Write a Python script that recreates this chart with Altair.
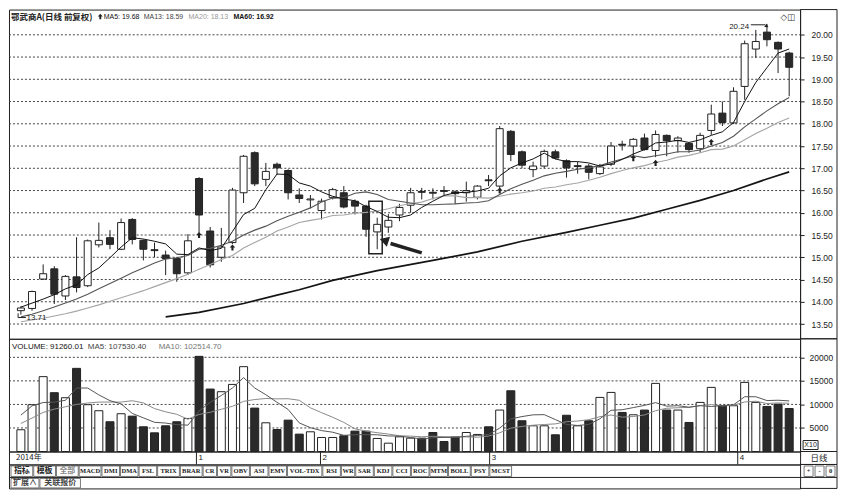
import altair as alt
import pandas as pd

W = 793
EXT = 37
H_PRICE = 330
H_VOL = 113
H_DATE = 13
H_TAB = 24
FONT = "Liberation Sans, DejaVu Sans, sans-serif"
CJK = "Noto Sans CJK SC, sans-serif"
INK = "#222222"
DARK = "#2a2a2a"
GRID = "#444444"

# ---------------- data ----------------
opens = [13.80, 13.85, 14.51, 14.74, 14.13, 14.56, 14.36, 15.28, 15.44, 15.18,
         15.85, 15.38, 15.17, 15.05, 14.97, 14.65, 16.77, 15.59, 15.00, 15.33,
         16.45, 17.35, 16.75, 17.09, 16.95, 16.40, 16.29, 16.05, 16.34, 16.45,
         16.26, 16.15, 15.57, 15.68, 15.95, 16.17, 16.48, 16.46, 16.50, 16.47,
         16.45, 16.35, 16.74, 16.60, 17.83, 17.37, 16.97, 17.05, 17.37, 17.17,
         17.04, 17.05, 16.88, 17.09, 17.54, 17.50, 17.68, 17.40, 17.74, 17.62,
         17.56, 17.44, 17.85, 18.24, 18.02, 18.84, 19.68, 20.06, 19.83, 19.59]
highs = [13.90, 14.25, 14.84, 14.80, 14.60, 15.45, 15.40, 15.78, 15.61, 15.87,
         15.88, 15.40, 15.33, 15.15, 15.00, 15.52, 16.80, 15.68, 15.66, 16.56,
         17.30, 17.38, 17.12, 17.13, 16.98, 16.55, 16.40, 16.32, 16.56, 16.60,
         16.30, 16.18, 15.89, 15.97, 16.20, 16.56, 16.56, 16.55, 16.60, 16.50,
         16.70, 16.62, 16.85, 17.95, 17.86, 17.40, 17.15, 17.42, 17.42, 17.20,
         17.15, 17.10, 17.10, 17.59, 17.62, 17.68, 17.78, 17.85, 17.76, 17.72,
         17.58, 17.80, 18.43, 18.50, 18.82, 19.87, 20.11, 20.24, 19.85, 19.62]
lows = [13.71, 13.80, 14.49, 13.95, 14.04, 14.21, 14.33, 15.22, 15.18, 15.16,
        15.29, 14.93, 15.00, 14.60, 14.45, 14.60, 15.55, 14.77, 14.90, 15.30,
        16.22, 16.60, 16.60, 16.85, 16.30, 16.22, 16.10, 15.85, 16.30, 16.10,
        15.96, 15.46, 15.18, 15.55, 15.81, 16.00, 16.30, 16.30, 16.40, 16.20,
        16.25, 16.30, 16.60, 16.55, 17.16, 17.00, 16.80, 17.00, 17.20, 16.79,
        16.88, 16.75, 16.85, 17.05, 17.40, 17.30, 17.40, 17.25, 17.27, 17.35,
        17.35, 17.35, 17.75, 17.95, 18.00, 18.54, 19.48, 19.74, 19.14, 18.62]
closes = [13.86, 14.23, 14.63, 14.17, 14.57, 14.32, 15.37, 15.38, 15.29, 15.78,
          15.40, 15.18, 15.15, 14.97, 14.63, 15.37, 15.95, 14.83, 15.23, 16.51,
          17.27, 16.65, 16.93, 17.01, 16.45, 16.32, 16.31, 16.26, 16.52, 16.13,
          16.15, 15.63, 15.74, 15.83, 16.12, 16.45, 16.46, 16.44, 16.48, 16.43,
          16.50, 16.60, 16.72, 17.89, 17.31, 17.07, 17.05, 17.38, 17.23, 17.01,
          17.06, 16.91, 17.03, 17.50, 17.52, 17.65, 17.42, 17.76, 17.62, 17.68,
          17.42, 17.74, 18.22, 18.03, 18.73, 19.80, 19.85, 19.89, 19.68, 19.27]
ma5 = [13.88, 13.97, 14.06, 14.16, 14.29, 14.38, 14.61, 14.76, 14.99, 15.23,
       15.44, 15.41, 15.36, 15.30, 15.07, 15.06, 15.21, 15.15, 15.20, 15.58,
       15.96, 16.10, 16.52, 16.87, 16.86, 16.67, 16.60, 16.47, 16.37, 16.31,
       16.27, 16.14, 16.03, 15.90, 15.89, 15.95, 16.12, 16.26, 16.39, 16.45,
       16.46, 16.49, 16.55, 16.83, 17.01, 17.12, 17.21, 17.34, 17.21, 17.15,
       17.15, 17.12, 17.05, 17.10, 17.20, 17.32, 17.42, 17.57, 17.59, 17.63,
       17.58, 17.64, 17.74, 17.82, 18.03, 18.50, 18.93, 19.26, 19.59, 19.68]
ma13 = [13.66, 13.72, 13.80, 13.88, 13.97, 14.06, 14.17, 14.29, 14.41, 14.53,
        14.65, 14.76, 14.87, 14.96, 14.99, 15.04, 15.18, 15.20, 15.27, 15.36,
        15.50, 15.61, 15.70, 15.82, 15.92, 16.01, 16.11, 16.24, 16.33, 16.34,
        16.44, 16.47, 16.41, 16.30, 16.26, 16.22, 16.18, 16.18, 16.19, 16.20,
        16.22, 16.23, 16.27, 16.41, 16.54, 16.64, 16.73, 16.83, 16.89, 16.93,
        16.98, 17.01, 17.06, 17.14, 17.21, 17.28, 17.24, 17.28, 17.32, 17.37,
        17.37, 17.41, 17.50, 17.58, 17.72, 17.93, 18.11, 18.29, 18.45, 18.59]
ma20 = [13.55, 13.59, 13.63, 13.68, 13.73, 13.79, 13.86, 13.93, 14.01, 14.09,
        14.17, 14.25, 14.34, 14.43, 14.52, 14.62, 14.73, 14.84, 14.95, 15.04,
        15.21, 15.33, 15.45, 15.59, 15.68, 15.78, 15.83, 15.87, 15.94, 15.95,
        15.99, 16.01, 16.04, 16.09, 16.16, 16.21, 16.24, 16.32, 16.38, 16.38,
        16.34, 16.34, 16.33, 16.37, 16.42, 16.45, 16.49, 16.55, 16.58, 16.63,
        16.67, 16.73, 16.80, 16.88, 16.95, 17.01, 17.06, 17.13, 17.18, 17.25,
        17.29, 17.35, 17.42, 17.43, 17.50, 17.64, 17.78, 17.90, 18.03, 18.13]
ma60_bars = [13, 16, 20, 23, 25, 28, 32, 37, 41, 45, 49, 52, 55, 58, 61, 64, 67, 69]
ma60_vals = [13.66, 13.76, 13.96, 14.15, 14.27, 14.48, 14.70, 14.93, 15.12, 15.36,
             15.56, 15.72, 15.88, 16.08, 16.28, 16.50, 16.76, 16.92]
volume = [4620, 9940, 15900, 12490, 11420, 17660, 9940, 8660, 6320, 8020,
          7510, 5250, 3970, 5460, 6320, 7020, 20210, 13260, 12700, 14250,
          18020, 9220, 6100, 4680, 6660, 3690, 4190, 2980, 2980, 3340,
          4330, 4330, 2770, 1770, 3120, 2840, 2840, 4040, 2130, 3120,
          4040, 3620, 5250, 8800, 12900, 6530, 5460, 5460, 3550, 7700,
          5460, 6530, 11490, 12550, 8300, 7800, 8800, 14470, 8800, 8800,
          6170, 10430, 13620, 9720, 9720, 14680, 10430, 9570, 10070, 9126]
vol_ma5 = [7730, 9700, 10400, 10500, 10870, 13480, 13480, 12030, 10800, 10120,
           8090, 7150, 6210, 6040, 5700, 5600, 8600, 10450, 11900, 13490,
           15690, 13490, 12060, 10450, 8940, 6070, 5060, 4440, 4100, 3440,
           3560, 3590, 3550, 3310, 3260, 2970, 2670, 2920, 2990, 2990,
           3230, 3390, 3630, 4970, 6920, 7420, 7790, 7830, 6780, 5740,
           5530, 5740, 6950, 8750, 8870, 9330, 9790, 10380, 9630, 9730,
           9410, 9730, 9560, 9750, 9930, 11630, 11630, 10820, 10890, 10750]
vol_ma10 = [5960, 7100, 8300, 9000, 9500, 10000, 10300, 10500, 10500, 10500,
            10790, 10320, 9120, 8420, 7910, 6850, 7870, 8330, 8970, 9600,
            10650, 11040, 11260, 11180, 11210, 10880, 9280, 8250, 7280, 6190,
            4820, 4330, 4000, 3700, 3350, 3270, 3130, 3240, 3150, 3130,
            3100, 3030, 3280, 3980, 4960, 5330, 5590, 5730, 5870, 6330,
            6470, 6760, 7390, 7760, 7300, 7430, 7760, 8670, 9190, 9300,
            9370, 9760, 9970, 9690, 9830, 10520, 10680, 10190, 10320, 10250]
signal_bars = [16, 19, 43, 55, 57, 62]
signal_prices = [15.50, 15.22, 16.50, 17.23, 17.12, 17.59]
price_ticks = [13.5, 14.0, 14.5, 15.0, 15.5, 16.0, 16.5, 17.0, 17.5, 18.0, 18.5, 19.0, 19.5, 20.0]
vol_ticks = [5000, 10000, 15000, 20000]
month_bars = [16, 27, 42, 64]
month_labels = ["1", "2", "3", "4"]
tabs_row1 = ["指标", "模板", "全部", "MACD", "DMI", "DMA", "FSL", "TRIX", "BRAR", "CR", "VR",
             "OBV", "ASI", "EMV", "VOL-TDX", "RSI", "WR", "SAR", "KDJ", "CCI", "ROC",
             "MTM", "BOLL", "PSY", "MCST"]
tabs_row2 = ["扩展∧", "关联报价"]
buttons = ["+", "-", "0"]

# ---------------- helpers ----------------
n = len(closes)
bars = pd.DataFrame({"i": list(range(n)), "o": opens, "h": highs, "l": lows, "c": closes,
                     "v": volume, "m5": ma5, "m13": ma13, "m20": ma20,
                     "vm5": vol_ma5, "vm10": vol_ma10})
UP = "datum.c >= datum.o"
one = pd.DataFrame({"k": [0]})

xsc = alt.Scale(domain=[-0.62, 69.53], nice=False, zero=False)
X = alt.X("i:Q", scale=xsc, axis=None)
psc = alt.Scale(domain=[13.168, 20.567], nice=False, zero=False)
paxis = alt.Axis(orient="right", values=price_ticks, format=".2f", grid=False,
                 tickSize=4, tickColor=INK, domainColor=INK, labelPadding=7,
                 labelFontSize=8.5, labelColor=INK, labelFont=FONT, title=None)


def PY(field):
    return alt.Y(f"{field}:Q", scale=psc, axis=paxis)


def label(s, x, y, size=8, color=INK, weight="normal", align="left", font=FONT):
    return alt.Chart(one).mark_text(text=s, align=align, baseline="middle", fontSize=size,
                                    color=color, fontWeight=weight, font=font).encode(
        x=alt.value(x), y=alt.value(y))


def frame_ext(h):
    d = alt.Chart(one)
    return alt.layer(
        d.mark_rule(color=INK).encode(x=alt.value(W), x2=alt.value(W + EXT), y=alt.value(0)),
        d.mark_rule(color=INK).encode(x=alt.value(W), x2=alt.value(W + EXT), y=alt.value(h)),
        d.mark_rule(color=INK).encode(x=alt.value(W + EXT), y=alt.value(0), y2=alt.value(h)),
    )


ARROW = "M0,-1L0.9,0L0.35,0L0.35,1L-0.35,1L-0.35,0L-0.9,0Z"

# ---------------- price panel ----------------
base = alt.Chart(bars)
pgrid = alt.Chart(pd.DataFrame({"g": price_ticks})).mark_rule(
    color=GRID, strokeWidth=1, strokeDash=[2, 2], opacity=1).encode(
    y=PY("g"), x=alt.value(0), x2=alt.value(W))
wicks = base.mark_rule(color=INK, strokeWidth=1).encode(x=X, y=PY("l"), y2="h:Q")
bodies = base.mark_bar(size=7, stroke=INK, strokeWidth=1).encode(
    x=X, y=PY("o"), y2="c:Q",
    fill=alt.condition(UP, alt.value("#ffffff"), alt.value(DARK)))
l5 = base.mark_line(color="#111111", strokeWidth=1).encode(x=X, y=PY("m5"))
l13 = base.mark_line(color="#555555", strokeWidth=1.1).encode(x=X, y=PY("m13"))
l20 = base.mark_line(color="#a5a5a5", strokeWidth=1.1).encode(x=X, y=PY("m20"))
ma60_df = pd.DataFrame({"i": ma60_bars, "m60": ma60_vals})
l60 = alt.Chart(ma60_df).mark_line(color="#151515", strokeWidth=1.7).encode(x=X, y=PY("m60"))

sig_df = pd.DataFrame({"i": signal_bars, "p": signal_prices})
sigs = alt.Chart(sig_df).mark_point(shape=ARROW, filled=True, size=38, color=INK, opacity=1).encode(
    x=X, y=PY("p"))

# annotations (in bar / price units)
box_df = pd.DataFrame({"x1": [31.25], "x2": [32.45], "y1": [15.08], "y2": [16.26]})
box = alt.Chart(box_df).mark_rect(fillOpacity=0, stroke=INK, strokeWidth=1.5).encode(
    x=alt.X("x1:Q", scale=xsc, axis=None), x2="x2:Q", y=PY("y1"), y2="y2:Q")
seg_df = pd.DataFrame({
    "x1": [36.0, 65.55, -0.25, -0.25],
    "x2": [33.2, 66.85, -0.25, 0.45],
    "y1": [15.10, 20.225, 13.74, 13.645],
    "y2": [15.31, 20.225, 13.645, 13.645],
    "w": [3.5, 1, 1, 1]})
segs = alt.Chart(seg_df).mark_rule(color=INK).encode(
    x=alt.X("x1:Q", scale=xsc, axis=None), x2="x2:Q", y=PY("y1"), y2="y2:Q",
    strokeWidth=alt.StrokeWidth("w:Q", scale=None))
head_df = pd.DataFrame({"x": [32.75, 66.95], "y": [15.37, 20.20], "a": [288, 125], "s": [110, 18]})
heads = alt.Chart(head_df).mark_point(shape="triangle", filled=True, color=INK, opacity=1).encode(
    x=alt.X("x:Q", scale=xsc, axis=None), y=PY("y"),
    angle=alt.Angle("a:Q", scale=None), size=alt.Size("s:Q", scale=None))
note_df = pd.DataFrame({"x": [65.4, 0.5], "y": [20.17, 13.645], "t": ["20.24", "13.71"]})
note_hi = alt.Chart(note_df.iloc[[0]]).mark_text(align="right", baseline="middle", fontSize=8,
                                                  font=FONT, color=INK).encode(
    x=alt.X("x:Q", scale=xsc, axis=None), y=PY("y"), text="t:N")
note_lo = alt.Chart(note_df.iloc[[1]]).mark_text(align="left", baseline="middle", fontSize=8,
                                                  font=FONT, color=INK).encode(
    x=alt.X("x:Q", scale=xsc, axis=None), y=PY("y"), text="t:N")

hdr_arrow = alt.Chart(one).mark_point(shape=ARROW, filled=True, size=30, color=INK, opacity=1).encode(
    x=alt.value(91.5), y=alt.value(7))

price = alt.layer(
    pgrid, wicks, bodies, l20, l13, l5, l60, sigs, box, segs, heads, note_hi, note_lo,
    label("鄂武商A(日线 前复权)", 2, 7, size=8.5, weight="bold", font=CJK),
    hdr_arrow,
    label("MA5: 19.68", 95, 7, size=7, color="#111111"),
    label("MA13: 18.59", 135, 7, size=7, color="#444444"),
    label("MA20: 18.13", 180, 7, size=7, color="#9a9a9a"),
    label("MA60: 16.92", 225, 7, size=7, color="#111111", weight="bold"),
    label("◇◫", 788, 7, size=8.5, color="#333333", align="right", font="DejaVu Sans"),
    frame_ext(H_PRICE),
).properties(width=W, height=H_PRICE)

# ---------------- volume panel ----------------
vsc = alt.Scale(domain=[0, 23940], nice=False, zero=True)
vaxis = alt.Axis(orient="right", values=vol_ticks, format="d", grid=False,
                 tickSize=4, tickColor=INK, domainColor=INK,
                 labelPadding=5, labelFontSize=8.5, labelColor=INK, labelFont=FONT, title=None)


def VY(field):
    return alt.Y(f"{field}:Q", scale=vsc, axis=vaxis)


vgrid = alt.Chart(pd.DataFrame({"g": vol_ticks})).mark_rule(
    color=GRID, strokeWidth=1, strokeDash=[2, 2], opacity=1).encode(
    y=VY("g"), x=alt.value(0), x2=alt.value(W))
vbars = base.mark_bar(size=8, stroke=INK, strokeWidth=1).encode(
    x=X, y=VY("v"), fill=alt.condition(UP, alt.value("#ffffff"), alt.value(DARK)))
vl5 = base.mark_line(color="#555555", strokeWidth=1).encode(x=X, y=VY("vm5"))
vl10 = base.mark_line(color="#8a8a8a", strokeWidth=1).encode(x=X, y=VY("vm10"))
x10box = alt.Chart(one).mark_rect(fillOpacity=0, stroke=INK, strokeWidth=1).encode(
    x=alt.value(W + 3), x2=alt.value(W + 18), y=alt.value(102), y2=alt.value(111))

volume_chart = alt.layer(
    vgrid, vbars, vl10, vl5,
    label("VOLUME: 91260.01", 3, 8, size=8, color="#111111"),
    label("MA5: 107530.40", 79, 8, size=8, color="#444444"),
    label("MA10: 102514.70", 150, 8, size=8, color="#777777"),
    x10box,
    label("X10", W + 10.5, 106.5, size=7, align="center"),
    frame_ext(H_VOL),
).properties(width=W, height=H_VOL)

# ---------------- date row ----------------
month_df = pd.DataFrame({"i": month_bars, "t": month_labels})
mticks = alt.Chart(month_df).mark_rule(color=INK).encode(x=X, y=alt.value(0), y2=alt.value(H_DATE))
mtext = alt.Chart(month_df).mark_text(align="left", baseline="middle", dx=2, fontSize=8,
                                      font=FONT, color=INK).encode(x=X, y=alt.value(7), text="t:N")
date_row = alt.layer(
    mticks, mtext,
    label("2014年", 7, 7, size=8, font=CJK),
    label("日线", W + 19, 6.5, size=8.5, align="center", font=CJK),
    frame_ext(H_DATE),
).properties(width=W, height=H_DATE)

# ---------------- tab rows ----------------


def tab_w(s):
    return 5 + sum(8.4 if ord(ch) > 0x2E80 else 4.2 for ch in s)


recs = []
pos = 2.0
for t in tabs_row1:
    w = tab_w(t)
    recs.append({"t": t, "x0": pos, "x1": pos + w, "row": 0,
                 "col": "#888888" if t == "全部" else INK})
    pos += w + 1
pos = 2.0
for t in tabs_row2:
    w = tab_w(t) + 2
    recs.append({"t": t, "x0": pos, "x1": pos + w, "row": 1, "col": "#444444"})
    pos += w + 1
pos = W + 4.0
for t in buttons:
    recs.append({"t": t, "x0": pos, "x1": pos + 9, "row": 0, "col": INK})
    pos += 11
tab_df = pd.DataFrame(recs)
tab_df["xm"] = (tab_df["x0"] + tab_df["x1"]) / 2
tsc = alt.Scale(domain=[0, W], nice=False, zero=False)
r1 = tab_df[tab_df["row"] == 0]
r2 = tab_df[tab_df["row"] == 1]


def tab_layer(df, y0, y1, cjk_size, ascii_size):
    boxes = alt.Chart(df).mark_rect(fill="#ffffff", stroke="#555555", strokeWidth=0.8).encode(
        x=alt.X("x0:Q", scale=tsc, axis=None), x2="x1:Q", y=alt.value(y0), y2=alt.value(y1))
    cj = alt.Chart(df).transform_filter("test(/[\\u2e80-\\uffff]/, datum.t)").mark_text(
        baseline="middle", align="center", fontSize=cjk_size, font=CJK, fontWeight="bold").encode(
        x=alt.X("xm:Q", scale=tsc, axis=None), y=alt.value((y0 + y1) / 2), text="t:N",
        color=alt.Color("col:N", scale=None))
    asc = alt.Chart(df).transform_filter("!test(/[\\u2e80-\\uffff]/, datum.t)").mark_text(
        baseline="middle", align="center", fontSize=ascii_size, font="Liberation Serif",
        fontWeight="bold").encode(
        x=alt.X("xm:Q", scale=tsc, axis=None), y=alt.value((y0 + y1) / 2), text="t:N",
        color=alt.Color("col:N", scale=None))
    return [boxes, cj, asc]


tab_chart = alt.layer(
    *tab_layer(r1, 1.5, 12, 8, 6.5),
    *tab_layer(r2, 14, 23.5, 8, 6.5),
    alt.Chart(one).mark_rule(color=INK).encode(x=alt.value(0), x2=alt.value(W + EXT), y=alt.value(13)),
    frame_ext(H_TAB),
).properties(width=W, height=H_TAB)

chart = alt.vconcat(price, volume_chart, date_row, tab_chart, spacing=0, bounds="flush").properties(
    padding=0, background="#ffffff"
).configure_view(stroke=INK, strokeWidth=1).configure_concat(spacing=0)

chart.save("out.html", embed_options={"renderer": "svg", "actions": False})
